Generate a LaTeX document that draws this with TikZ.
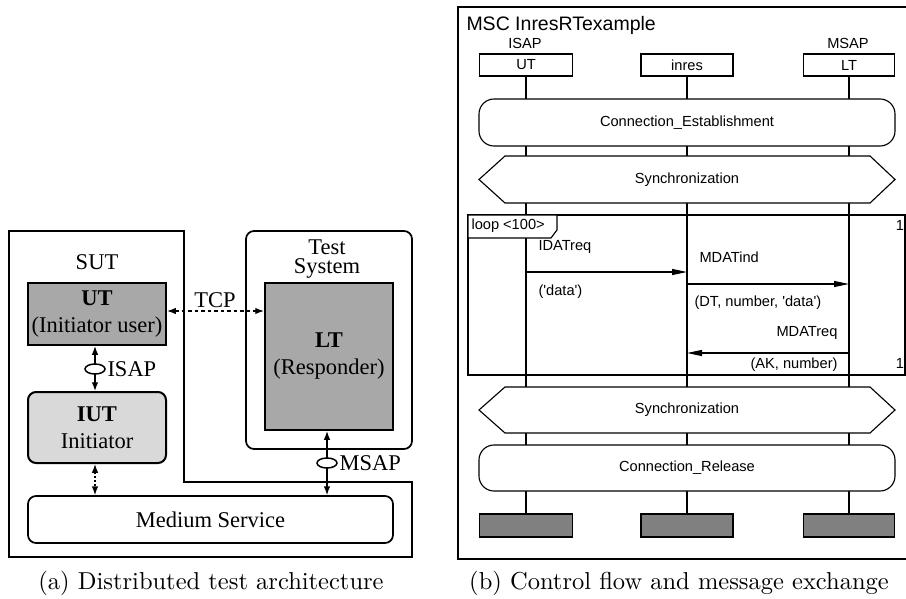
\documentclass[tikz,border=0pt]{standalone}
\usepackage{fontspec}
\newfontfamily\serifA{Liberation Serif}
\newfontfamily\sansA{Liberation Sans}
\usetikzlibrary{arrows.meta,shapes.geometric}
\definecolor{darkbox}{gray}{0.66}
\definecolor{lightbox}{gray}{0.85}
\definecolor{endbox}{gray}{0.5}
\begin{document}
\begin{tikzpicture}[x=0.4pt,y=-0.4pt,
  boxsize/.style 2 args={minimum width=#1*0.4pt,minimum height=#2*0.4pt,inner sep=0pt},
  ltext/.style={font=\serifA\fontsize{9}{10.8}\selectfont},
  archbox/.style={draw,line width=0.8pt,align=center,ltext},
  frame/.style={line width=0.7pt},
  biarrow/.style={line width=0.5pt,{Latex[length=3.5pt,width=2.6pt]}-{Latex[length=3.5pt,width=2.6pt]}},
  sap/.style={draw,ellipse,fill=white,line width=0.6pt,minimum width=8pt,minimum height=4pt,inner sep=0pt},
  mtext/.style={font=\sansA\fontsize{5.85}{7}\selectfont,inner sep=0pt},
  mline/.style={line width=0.45pt},
  inst/.style={draw,mline,mtext,fill=white},
  msg/.style={mline,-{Triangle[length=6pt,width=2.4pt]}},
  captext/.style={font=\fontsize{9.8}{12}\selectfont}
]
\useasboundingbox (0,0) rectangle (906,599);
\fill[white] (0,0) rectangle (906,599);

% ---------- (a) architecture ----------
\draw[frame] (9,231) -- (184,231) -- (184,482) -- (412,482) -- (412,557) -- (9,557) -- cycle;
\node[draw,frame,rounded corners=3.2pt,boxsize={166}{218}] (ts) at (329,340) {};
\node[align=center,font=\serifA\fontsize{9}{7.8}\selectfont] (tslabel) at (327,259) {Test\\System};
\node[ltext] (sut) at (97,262) {SUT};
\node[archbox,fill=darkbox,boxsize={138}{62}] (ut) at (97,314) {\textbf{UT}\\(Initiator user)};
\node[archbox,fill=darkbox,boxsize={128}{147}] (lt) at (329,356.5) {\textbf{LT}\\(Responder)};
\node[archbox,fill=lightbox,rounded corners=3.2pt,boxsize={138}{71}] (iut) at (97,427.5) {\textbf{IUT}\\Initiator};
\node[draw,frame,rounded corners=3.2pt,ltext,boxsize={365}{47}] (ms) at (210.5,519.5) {Medium Service};

\coordinate (tcpy) at (0,311);
\draw[biarrow,dash pattern=on 1.4pt off 1.2pt] (ut.east |- tcpy) -- (lt.west |- tcpy);
\node[ltext] (tcp) at (215,300) {TCP};

\coordinate (isapx) at (95,0);
\draw[biarrow] (ut.south -| isapx) -- (iut.north -| isapx);
\node[sap] (isap) at (95,369) {};
\node[ltext,anchor=west,inner sep=0pt] (isapl) at (107,369) {ISAP};
\draw[biarrow,dash pattern=on 0.8pt off 0.8pt] (iut.south -| isapx) -- (ms.north -| isapx);

\coordinate (msapx) at (327,0);
\draw[biarrow] (lt.south -| msapx) -- (ms.north -| msapx);
\node[sap] (msap) at (327,463) {};
\node[ltext,anchor=west,inner sep=0pt] (msapl) at (339,463) {MSAP};

\node[captext] (capa) at (211,583) {(a) Distributed test architecture};
\node[captext] (capb) at (679,583) {(b) Control flow and message exchange};

% ---------- (b) MSC ----------
\draw[mline] (906,7) -| (458,559) -- (906,559);
\node[font=\sansA\fontsize{7.8}{9}\selectfont,anchor=west,inner sep=0pt] (title) at (466,25) {MSC InresRTexample};
\node[mtext] (isapm) at (525,43) {ISAP};
\node[mtext] (msapm) at (848,43) {MSAP};

\node[inst,boxsize={93}{22}] (uI) at (526,65) {UT};
\node[inst,boxsize={92}{22}] (iI) at (687,65) {inres};
\node[inst,boxsize={91}{22}] (lI) at (849,65) {LT};
\node[draw,mline,fill=endbox,boxsize={93}{23}] (uE) at (526,525.5) {};
\node[draw,mline,fill=endbox,boxsize={92}{23}] (iE) at (687,525.5) {};
\node[draw,mline,fill=endbox,boxsize={91}{23}] (lE) at (849,525.5) {};
\draw[mline] (uI) -- (uE);
\draw[mline] (iI) -- (iE);
\draw[mline] (lI) -- (lE);

\node[draw,mline,fill=white,rounded corners=6pt,mtext,boxsize={416}{47}] (ce) at (687,122.5) {Connection\_Establishment};
\draw[mline,fill=white] (479,179.5) -- (505,156) -- (870,156) -- (895,179.5) -- (870,203) -- (505,203) -- cycle;
\node[mtext] (sy1) at (687,179.5) {Synchronization};

\draw[mline] (468,215) rectangle (905,375);
\draw[mline,fill=white] (468,215) -- (557,215) -- (557,230) -- (551,238) -- (468,238) -- cycle;
\node[mtext,anchor=west] (looplabel) at (471,226) {loop <100>};
\node[mtext] (one1) at (900,225) {1};
\node[mtext] (one2) at (900,363) {1};

\coordinate (m1) at (0,272);
\draw[msg] (uI |- m1) -- (iI |- m1);
\node[mtext,anchor=west] (l1) at (538,247) {IDATreq};
\node[mtext,anchor=west] (l1b) at (538,292) {('data')};
\coordinate (m2) at (0,284);
\draw[msg] (iI |- m2) -- (lI |- m2);
\node[mtext,anchor=west] (l2) at (699,257) {MDATind};
\node[mtext,anchor=west] (l2b) at (694,303) {(DT, number, 'data')};
\coordinate (m3) at (0,353);
\draw[msg] (lI |- m3) -- (iI |- m3);
\node[mtext,anchor=east] (l3) at (838,333) {MDATreq};
\node[mtext,anchor=east] (l3b) at (838,365) {(AK, number)};

\draw[mline,fill=white] (479,410) -- (505,387) -- (870,387) -- (895,410) -- (870,433) -- (505,433) -- cycle;
\node[mtext] (sy2) at (687,410) {Synchronization};
\node[draw,mline,fill=white,rounded corners=6pt,mtext,boxsize={416}{46}] (cr) at (687,468) {Connection\_Release};
\end{tikzpicture}
\end{document}
